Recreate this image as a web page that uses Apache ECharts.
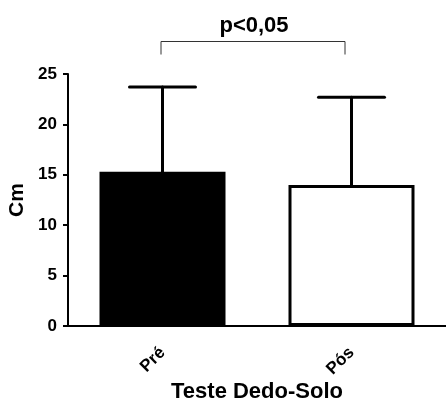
<!DOCTYPE html>
<html>
<head>
<meta charset="utf-8">
<script src="https://cdn.jsdelivr.net/npm/echarts@6/dist/echarts.min.js"></script>
<style>
  html, body { margin: 0; padding: 0; background: #fff; }
  #chart { width: 446px; height: 401px; }
</style>
</head>
<body>
<div id="chart"></div>
<script>
var categories = ['Pré', 'Pós'];
var means = [15.3, 14.0];
var sds = [8.4, 8.7];
var yTicks = [0, 5, 10, 15, 20, 25];
var pLabel = 'p<0,05';

var font = '"Liberation Sans", Arial, sans-serif';

var chart = echarts.init(document.getElementById('chart'));

var barData = means.map(function (v, i) {
    return {
        value: v,
        itemStyle: {
            color: i === 0 ? '#000' : '#fff',
            borderColor: '#000',
            borderWidth: 3
        }
    };
});

var errData = means.map(function (v, i) {
    return [i, v, v + sds[i]];
});

var option = {
    backgroundColor: '#fff',
    animation: false,
    grid: { left: 68, right: 0, top: 74, bottom: 75, outerBoundsMode: 'none' },
    xAxis: {
        type: 'category',
        data: categories,
        name: 'Teste Dedo-Solo',
        nameLocation: 'middle',
        nameGap: 55,
        nameMoveOverlap: false,
        nameTextStyle: { color: '#000', fontFamily: font, fontWeight: 'bold', fontSize: 22 },
        axisLine: { lineStyle: { color: '#000', width: 2 } },
        axisTick: { alignWithLabel: true, length: 6, lineStyle: { color: '#000', width: 2 } },
        axisLabel: {
            rotate: 45, margin: 24,
            color: '#000', fontFamily: font, fontWeight: 'bold', fontSize: 17
        },
        splitLine: { show: false },
        z: 5
    },
    yAxis: {
        type: 'value',
        min: yTicks[0],
        max: yTicks[yTicks.length - 1],
        interval: 5,
        name: 'Cm',
        nameLocation: 'middle',
        nameGap: 40,
        nameMoveOverlap: false,
        nameTextStyle: { color: '#000', fontFamily: font, fontWeight: 'bold', fontSize: 21 },
        axisLine: { show: true, lineStyle: { color: '#000', width: 2 } },
        axisTick: { show: true, length: 5, lineStyle: { color: '#000', width: 2 } },
        axisLabel: { margin: 11, color: '#000', fontFamily: font, fontWeight: 'bold', fontSize: 17 },
        splitLine: { show: false }
    },
    series: [
        {
            type: 'bar',
            data: barData,
            barWidth: 126,
            z: 2
        },
        {
            // error bars (mean + SD)
            type: 'custom',
            data: errData,
            z: 3,
            renderItem: function (params, api) {
                var top = api.coord([api.value(0), api.value(2)]);
                var base = api.coord([api.value(0), api.value(1)]);
                var half = 33;
                var style = { stroke: '#000', lineWidth: 3, lineCap: 'round' };
                return {
                    type: 'group',
                    children: [
                        { type: 'line', shape: { x1: top[0], y1: top[1], x2: base[0], y2: base[1] }, style: style },
                        { type: 'line', shape: { x1: top[0] - half, y1: top[1], x2: top[0] + half, y2: top[1] }, style: style }
                    ]
                };
            }
        },
        {
            // significance bracket
            type: 'custom',
            data: [[0, 1]],
            clip: false,
            z: 4,
            renderItem: function (params, api) {
                var a = api.coord([api.value(0), 28.3]);
                var b = api.coord([api.value(1), 28.3]);
                var x1 = a[0] - 1.5, x2 = b[0] - 6.5, y = Math.round(a[1]) + 0.5, leg = 13;
                var style = { stroke: '#333', fill: 'none', lineWidth: 1 };
                return {
                    type: 'group',
                    children: [
                        { type: 'polyline', shape: { points: [[x1, y + leg], [x1, y], [x2, y], [x2, y + leg]] }, style: style },
                        {
                            type: 'text',
                            style: {
                                x: (x1 + x2) / 2 + 1, y: y - 16,
                                text: pLabel,
                                fill: '#000',
                                font: 'bold 22px ' + font,
                                textAlign: 'center',
                                textVerticalAlign: 'middle'
                            }
                        }
                    ]
                };
            }
        }
    ]
};

chart.setOption(option);
</script>
</body>
</html>
